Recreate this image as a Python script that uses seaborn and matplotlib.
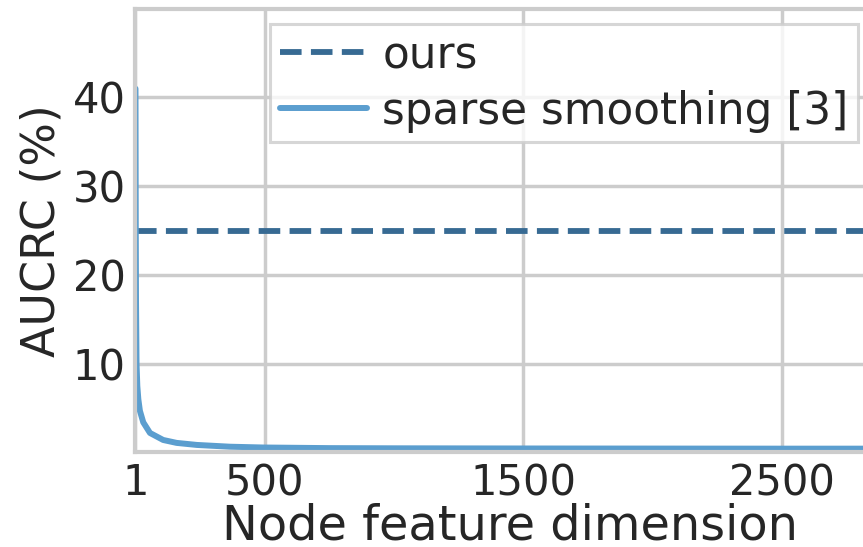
import numpy as np
import pandas as pd
import matplotlib
matplotlib.use("Agg")
import matplotlib.pyplot as plt
import seaborn as sns

# values
dims = [1, 2, 3, 5, 8, 12, 18, 31, 57, 108, 160, 238, 366, 495, 753, 1000, 1500, 2000, 2500, 2900]
sparse_aucrc = [41.0, 26.0, 17.0, 10.0, 7.5, 6.0, 4.7, 3.4, 2.2, 1.41, 1.08, 0.85, 0.65,
                0.56, 0.49, 0.47, 0.45, 0.44, 0.43, 0.43]
ours_aucrc = 25.0
x_ticks = [1, 500, 1500, 2500]
y_ticks = [10, 20, 30, 40]

df = pd.DataFrame({"dim": dims, "aucrc": sparse_aucrc})

sns.set_theme(style="whitegrid")
plt.rcParams["font.family"] = ["DejaVu Sans"]
plt.rcParams["axes.edgecolor"] = "0.8"
plt.rcParams["axes.linewidth"] = 3.0
plt.rcParams["grid.color"] = "0.8"
plt.rcParams["grid.linewidth"] = 2.5

fig = plt.figure(figsize=(8.63, 5.47), dpi=100)
ax = fig.add_axes([0.157, 0.1728, 0.8673, 0.8112])

ax.axhline(ours_aucrc, color="#376a93", lw=4.2, ls="--", label="ours")
sns.lineplot(data=df, x="dim", y="aucrc", ax=ax, color="#5b9ecf", lw=4.3,
             label="sparse smoothing [3]")

ax.set_xlim(1, 2895)
ax.set_ylim(0, 50)
ax.set_xticks(x_ticks)
ax.set_yticks(y_ticks)
ax.tick_params(axis="both", labelsize=30, pad=7, length=0)
ax.set_xlabel("Node feature dimension", fontsize=34.5, labelpad=-1)
ax.set_ylabel("AUCRC (%)", fontsize=33, labelpad=6)

leg = ax.legend(loc="upper left", bbox_to_anchor=(270 / 863, 1 - 24 / 547),
                bbox_transform=fig.transFigure, fontsize=31.5, borderaxespad=0,
                borderpad=0.22, labelspacing=0.3, handletextpad=0.35, handlelength=2.0)
leg.get_frame().set_edgecolor("0.8")
leg.get_frame().set_linewidth(2.2)
leg.get_frame().set_boxstyle("square", pad=0)

fig.savefig("out.png", dpi=100)
